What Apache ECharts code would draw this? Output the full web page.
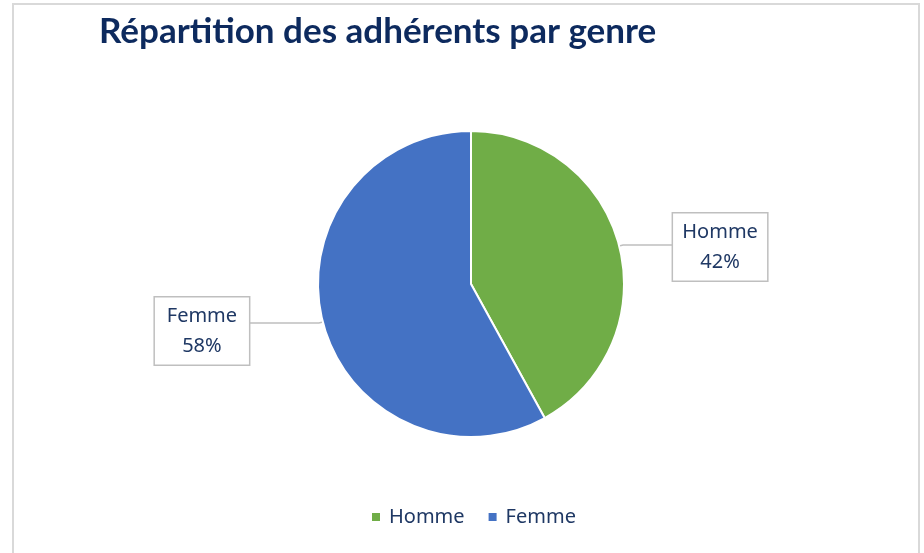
<!DOCTYPE html>
<html>
<head>
<meta charset="utf-8">
<script src="https://cdn.jsdelivr.net/npm/echarts@6/dist/echarts.min.js"></script>
<style>
  body { margin: 0; background: #fff; }
  #frame {
    position: absolute; left: 12px; top: 3px; width: 908px; height: 560px;
    border: 2px solid #d9d9d9; box-sizing: border-box;
  }
  #myChart { position: absolute; left: 0; top: 0; width: 924px; height: 553px; }
</style>
</head>
<body>
<div id="frame"></div>
<div id="myChart"></div>
<script>
  var titleText = 'Répartition des adhérents par genre'
  var categories = ['Homme', 'Femme']
  var shares = [42, 58]
  var colors = ['#70ad47', '#4472c4']
  var leaderLengths = [50, 70]

  var pieData = []
  for (var i = 0; i < categories.length; i++) {
    pieData.push({
      name: categories[i],
      value: shares[i],
      itemStyle: { color: colors[i] },
      labelLine: { length2: leaderLengths[i] }
    })
  }

  var textColor = '#1f3864'
  var myChart = echarts.init(document.getElementById('myChart'))
  myChart.setOption({
    animation: false,
    title: {
      text: titleText,
      left: 94,
      top: 9,
      textStyle: { fontFamily: 'Lato', fontWeight: 'bold', fontSize: 35, color: '#0d2a5e' }
    },
    legend: {
      data: categories,
      bottom: 21,
      left: 365,
      icon: 'rect',
      itemWidth: 10,
      itemHeight: 10,
      itemGap: 22,
      textStyle: { fontFamily: 'Noto Sans', fontSize: 20, color: textColor, padding: [0, 0, 0, 3] }
    },
    series: [
      {
        type: 'pie',
        center: [471, 284],
        radius: 153,
        startAngle: 90,
        clockwise: true,
        data: pieData,
        itemStyle: { borderColor: '#fff', borderWidth: 2 },
        label: {
          show: true,
          position: 'outside',
          formatter: '{a|{b}}\n{a|{c}%}',
          rich: {
            a: {
              fontFamily: 'Noto Sans',
              fontSize: 20,
              lineHeight: 30,
              color: textColor,
              width: 76,
              align: 'center'
            }
          },
          backgroundColor: '#fff',
          borderColor: '#bfbfbf',
          borderWidth: 1.5,
          padding: [4, 9, 3, 9],
          distanceToLabelLine: 0
        },
        labelLine: {
          show: true,
          length: 4,
          length2: 50,
          lineStyle: { color: '#bfbfbf', width: 1.5 }
        },
        labelLayout: function (params) {
          return { dy: params.dataIndex === 1 ? 8 : 2 }
        }
      }
    ]
  })
</script>
</body>
</html>
